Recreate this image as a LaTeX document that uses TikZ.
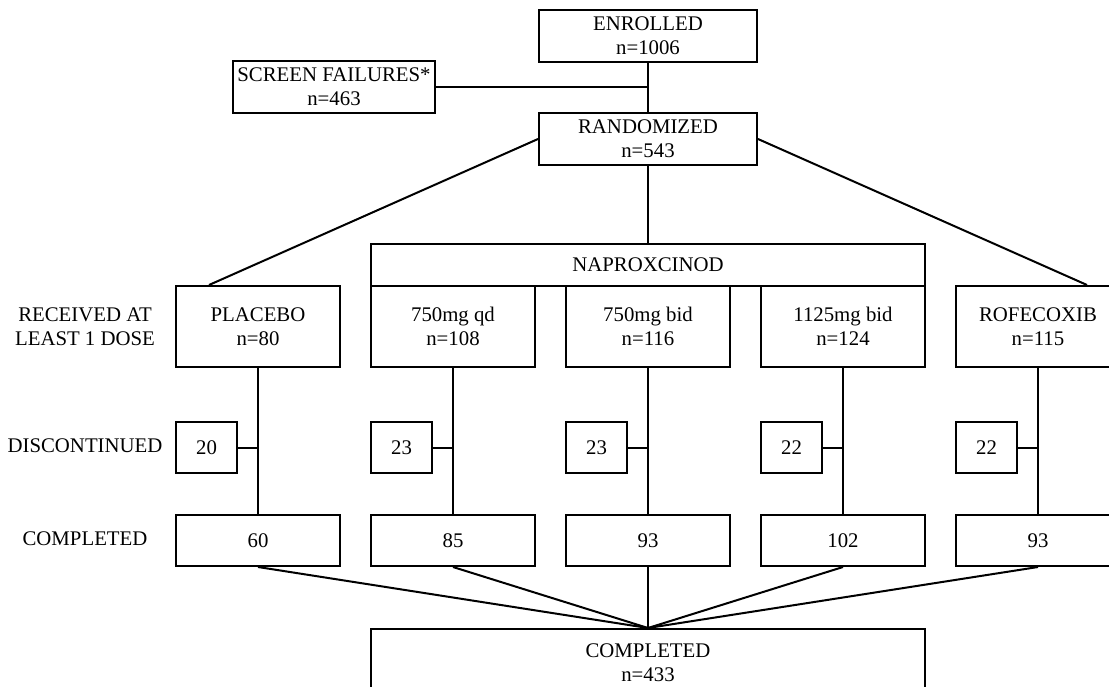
\documentclass[tikz,border=0pt]{standalone}
\usepackage{fontspec}
\setmainfont{Liberation Serif}
\usetikzlibrary{positioning}

\begin{document}
\begin{tikzpicture}[x=0.5pt, y=-0.5pt, line width=1pt,
    every node/.style={font=\fontsize{10.4}{12}\selectfont},
    box/.style={draw, rectangle, align=center, inner sep=0pt, minimum width=82pt, minimum height=40.5pt},
    topbox/.style={box, minimum width=109pt, minimum height=26pt},
    dropbox/.style={box, minimum width=30.5pt, minimum height=25.5pt},
    donebox/.style={box, minimum height=25.5pt},
    rowlabel/.style={align=center}]
    \useasboundingbox (0,0) rectangle (1109,686);
    \clip (0,0) rectangle (1109,686);

    % Enrolment and randomisation
    \node[topbox] (enrolled) at (648,36) {ENROLLED\\n=1006};
    \node[topbox, minimum width=101pt] (screen) at (334,87) {SCREEN FAILURES*\\n=463};
    \node[topbox] (randomized) at (648,139) {RANDOMIZED\\n=543};

    % Treatment arms
    \node[box, minimum width=277pt, minimum height=21pt] (napro) at (648,265) {NAPROXCINOD};
    \node[box] (placebo) at (258,326.5) {PLACEBO\\n=80};
    \node[box] (qd750) at (453,326.5) {750mg qd\\n=108};
    \node[box] (bid750) at (648,326.5) {750mg bid\\n=116};
    \node[box] (bid1125) at (843,326.5) {1125mg bid\\n=124};
    \node[box] (rofe) at (1038,326.5) {ROFECOXIB\\n=115};

    % Discontinued
    \node[dropbox, below=26.5pt of placebo.south west, anchor=north west] (dplacebo) {20};
    \node[dropbox, below=26.5pt of qd750.south west, anchor=north west] (dqd750) {23};
    \node[dropbox, below=26.5pt of bid750.south west, anchor=north west] (dbid750) {23};
    \node[dropbox, below=26.5pt of bid1125.south west, anchor=north west] (dbid1125) {22};
    \node[dropbox, below=26.5pt of rofe.south west, anchor=north west] (drofe) {22};

    % Completed per arm
    \node[donebox, below=73pt of placebo] (cplacebo) {60};
    \node[donebox, below=73pt of qd750] (cqd750) {85};
    \node[donebox, below=73pt of bid750] (cbid750) {93};
    \node[donebox, below=73pt of bid1125] (cbid1125) {102};
    \node[donebox, below=73pt of rofe] (crofe) {93};

    \node[box, minimum width=277pt, minimum height=34pt, below=30.5pt of cbid750] (total) {COMPLETED\\n=433};

    % Row labels
    \node[rowlabel] (lreceived) at (85,326.5) {RECEIVED AT\\LEAST 1 DOSE};
    \node[rowlabel] (ldisc) at (85,445.5) {DISCONTINUED};
    \node[rowlabel] (lcomp) at (85,538.5) {COMPLETED};

    % Connectors
    \draw (enrolled) -- (randomized);
    \draw (screen.east) -- (screen.east -| enrolled.south);
    \draw (randomized) -- (napro);
    \draw (randomized.west) -- ([xshift=-24.5pt]placebo.north);
    \draw (randomized.east) -- ([xshift=24.5pt]rofe.north);

    \draw (placebo) -- (cplacebo);
    \draw (qd750) -- (cqd750);
    \draw (bid750) -- (cbid750);
    \draw (bid1125) -- (cbid1125);
    \draw (rofe) -- (crofe);

    \draw (dplacebo.east) -- (dplacebo.east -| placebo.south);
    \draw (dqd750.east) -- (dqd750.east -| qd750.south);
    \draw (dbid750.east) -- (dbid750.east -| bid750.south);
    \draw (dbid1125.east) -- (dbid1125.east -| bid1125.south);
    \draw (drofe.east) -- (drofe.east -| rofe.south);

    \draw (cplacebo.south) -- (total.north);
    \draw (cqd750.south) -- (total.north);
    \draw (cbid750.south) -- (total.north);
    \draw (cbid1125.south) -- (total.north);
    \draw (crofe.south) -- (total.north);
\end{tikzpicture}
\end{document}
